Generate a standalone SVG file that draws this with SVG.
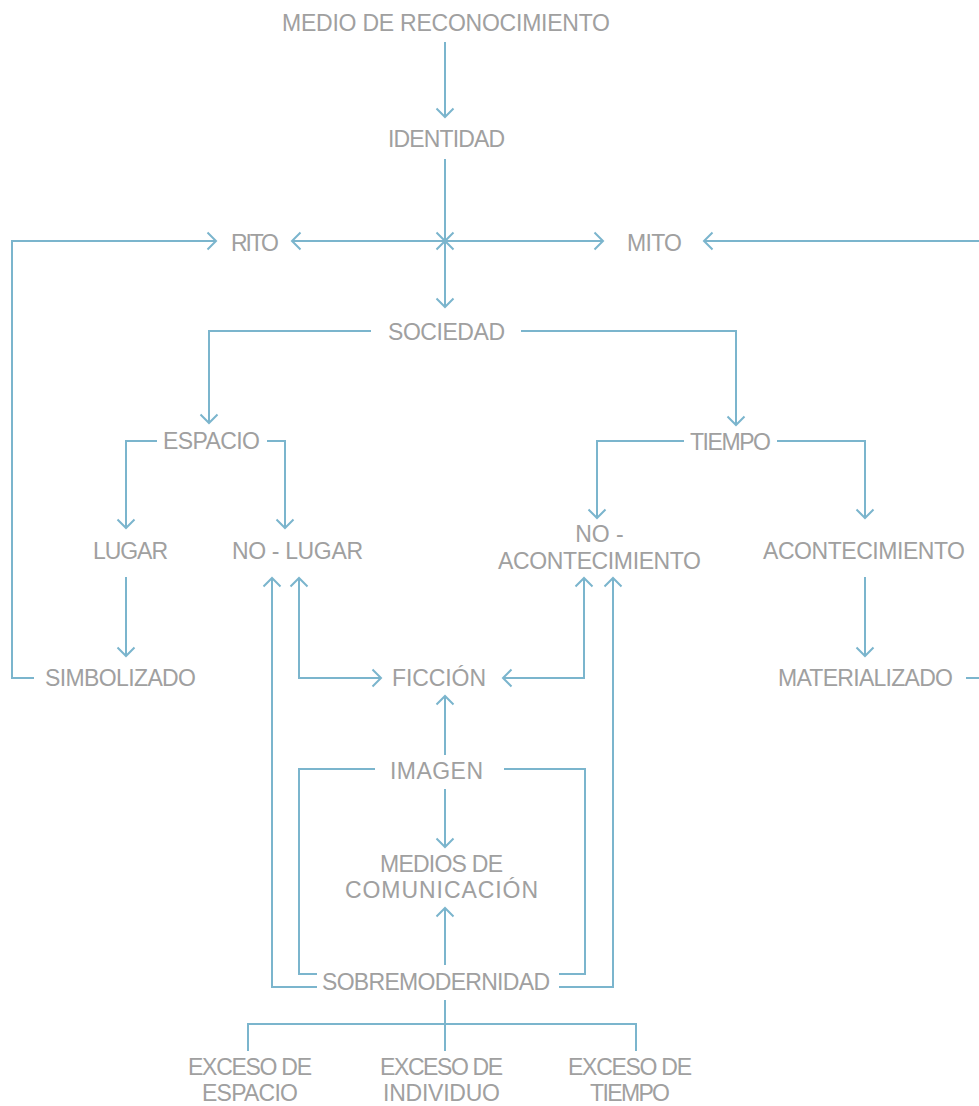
<svg xmlns="http://www.w3.org/2000/svg" width="979" height="1106" viewBox="0 0 979 1106">
<style>
.lbl{font-family:"Liberation Sans",Arial,sans-serif;font-size:23px;fill:#a0a0a0;text-anchor:middle}
.cn{fill:none;stroke:#7bb5cd;stroke-width:2}
</style>
<defs>
<marker id="ar" viewBox="-10 -10 12 20" markerWidth="12" markerHeight="20" refX="0" refY="0" markerUnits="userSpaceOnUse" orient="auto-start-reverse">
<path d="M-8.5,-8.5 L0,0 L-8.5,8.5" fill="none" stroke="#7bb5cd" stroke-width="2"/>
</marker>
</defs>
<rect width="979" height="1106" fill="#ffffff"/>
<g id="connectors">
<path class="cn" d="M445,42 V117" marker-end="url(#ar)"/>
<path class="cn" d="M445,159 V241" marker-end="url(#ar)"/>
<path class="cn" d="M445,241 V307" marker-start="url(#ar)" marker-end="url(#ar)"/>
<path class="cn" d="M445,241 H292" marker-end="url(#ar)"/>
<path class="cn" d="M445,241 H603" marker-end="url(#ar)"/>
<path class="cn" d="M34,678 H12 V241 H216" marker-end="url(#ar)"/>
<path class="cn" d="M980,241 H704" marker-end="url(#ar)"/>
<path class="cn" d="M966,678 H980"/>
<path class="cn" d="M371,331 H209 V423" marker-end="url(#ar)"/>
<path class="cn" d="M521,331 H736 V425" marker-end="url(#ar)"/>
<path class="cn" d="M157,441 H126 V528" marker-end="url(#ar)"/>
<path class="cn" d="M267,441 H285 V528" marker-end="url(#ar)"/>
<path class="cn" d="M684,441 H597 V518" marker-end="url(#ar)"/>
<path class="cn" d="M777,441 H865 V518" marker-end="url(#ar)"/>
<path class="cn" d="M126,577 V656" marker-end="url(#ar)"/>
<path class="cn" d="M865,577 V656" marker-end="url(#ar)"/>
<path class="cn" d="M299,578 V678 H381" marker-start="url(#ar)" marker-end="url(#ar)"/>
<path class="cn" d="M584,578 V678 H503" marker-start="url(#ar)" marker-end="url(#ar)"/>
<path class="cn" d="M317,987 H272 V578" marker-end="url(#ar)"/>
<path class="cn" d="M559,987 H613 V578" marker-end="url(#ar)"/>
<path class="cn" d="M375,769 H299 V974 H317"/>
<path class="cn" d="M504,769 H585 V974 H559"/>
<path class="cn" d="M445,755 V696" marker-end="url(#ar)"/>
<path class="cn" d="M445,789 V847" marker-end="url(#ar)"/>
<path class="cn" d="M445,965 V908" marker-end="url(#ar)"/>
<path class="cn" d="M445,1000 V1051"/>
<path class="cn" d="M248,1051 V1024 H636 V1051"/>
</g>
<g id="n-medio"><text class="lbl" x="446" y="31" textLength="328">MEDIO DE RECONOCIMIENTO</text></g>
<g id="n-identidad"><text class="lbl" x="446.5" y="147" textLength="117">IDENTIDAD</text></g>
<g id="n-rito"><text class="lbl" x="255" y="251" textLength="48">RITO</text></g>
<g id="n-mito"><text class="lbl" x="654.5" y="251" textLength="55">MITO</text></g>
<g id="n-sociedad"><text class="lbl" x="446.5" y="340" textLength="117">SOCIEDAD</text></g>
<g id="n-espacio"><text class="lbl" x="211.5" y="449" textLength="97">ESPACIO</text></g>
<g id="n-tiempo"><text class="lbl" x="730.5" y="450" textLength="81">TIEMPO</text></g>
<g id="n-lugar"><text class="lbl" x="130.5" y="559" textLength="75">LUGAR</text></g>
<g id="n-nolugar"><text class="lbl" x="297.5" y="559" textLength="131">NO - LUGAR</text></g>
<g id="n-noacont"><text class="lbl" x="599.5" y="542">NO -</text><text class="lbl" x="599.5" y="569" textLength="203">ACONTECIMIENTO</text></g>
<g id="n-acont"><text class="lbl" x="864" y="559" textLength="202">ACONTECIMIENTO</text></g>
<g id="n-simbolizado"><text class="lbl" x="120.5" y="686" textLength="151">SIMBOLIZADO</text></g>
<g id="n-ficcion"><text class="lbl" x="439" y="686" textLength="94">FICCIÓN</text></g>
<g id="n-materializado"><text class="lbl" x="865.5" y="686" textLength="175">MATERIALIZADO</text></g>
<g id="n-imagen"><text class="lbl" x="436.5" y="779" textLength="93">IMAGEN</text></g>
<g id="n-medios"><text class="lbl" x="441.5" y="872" textLength="123">MEDIOS DE</text><text class="lbl" x="441.5" y="898" textLength="193">COMUNICACIÓN</text></g>
<g id="n-sobremodernidad"><text class="lbl" x="436" y="990" textLength="228">SOBREMODERNIDAD</text></g>
<g id="n-exc-espacio"><text class="lbl" x="250" y="1075" textLength="124">EXCESO DE</text><text class="lbl" x="250" y="1101" textLength="96">ESPACIO</text></g>
<g id="n-exc-individuo"><text class="lbl" x="441.5" y="1075" textLength="123">EXCESO DE</text><text class="lbl" x="441.5" y="1101" textLength="117">INDIVIDUO</text></g>
<g id="n-exc-tiempo"><text class="lbl" x="630" y="1075" textLength="124">EXCESO DE</text><text class="lbl" x="630" y="1101" textLength="80">TIEMPO</text></g>
</svg>
